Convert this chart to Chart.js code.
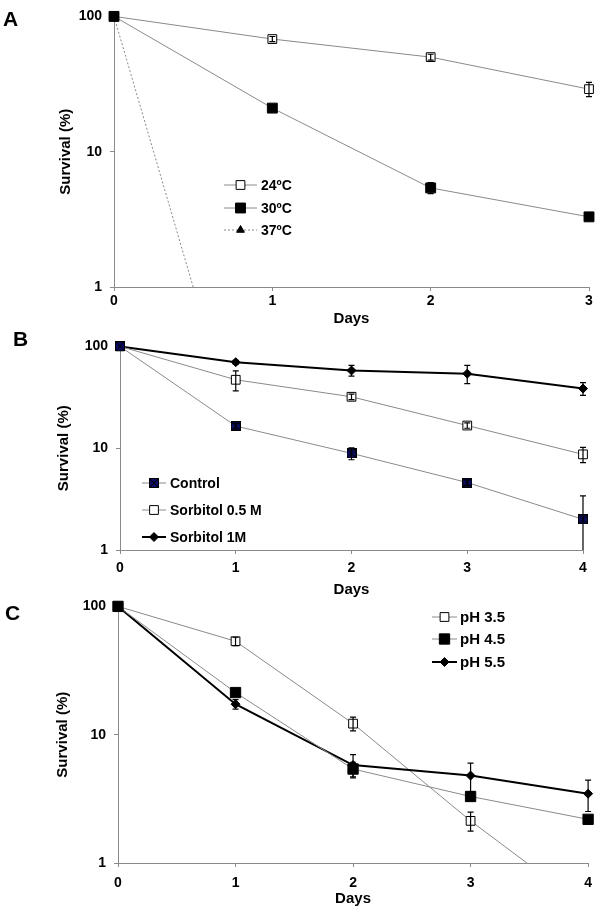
<!DOCTYPE html>
<html>
<head>
<meta charset="utf-8">
<script src="https://cdn.jsdelivr.net/npm/chart.js@4.4.1/dist/chart.umd.min.js"></script>
<style>
    body { margin: 0; background: #fff; width: 600px; height: 910px; position: relative; overflow: hidden; font-family: "Liberation Sans", Arial, sans-serif; }
    .painel { position: absolute; left: 0; width: 600px; }
    .painel canvas { display: block; }
    .letra { position: absolute; font-weight: bold; font-size: 21px; line-height: 21px; color: #000; }
</style>
</head>
<body>
<div class="painel" style="top:0;height:330px"><canvas id="chart-a" width="600" height="330"></canvas></div>
<div class="painel" style="top:330px;height:270px"><canvas id="chart-b" width="600" height="270"></canvas></div>
<div class="painel" style="top:590px;height:320px"><canvas id="chart-c" width="600" height="320"></canvas></div>
<div class="letra" style="left:3px;top:8px">A</div>
<div class="letra" style="left:13px;top:328px">B</div>
<div class="letra" style="left:5px;top:602px">C</div>
<script>
    // eixo y comum
    const yTicks = [1, 10, 100];

    // painel A - temperatura
    const diasA = [0, 1, 2, 3];
    const labelsA = ['24ºC', '30ºC', '37ºC'];
    const a24 = [100, 68, 50, 29];
    const a24Err = [0, 3, 2.5, 3.5];
    const a30 = [100, 21, 5.4, 3.3];
    const a30Err = [0, 1, 0.5, 0.2];
    const a37 = [100, 0.01];
    const a37Err = [0, 0];

    // painel B - sorbitol
    const diasB = [0, 1, 2, 3, 4];
    const labelsB = ['Control', 'Sorbitol 0.5 M', 'Sorbitol 1M'];
    const bControl = [100, 16.5, 8.9, 4.6, 2.0];
    const bControlErr = [0, 1, 1.2, 0.3, 1.4];
    const bSorb05 = [100, 47, 32, 16.7, 8.7];
    const bSorb05Err = [0, 10.5, 2, 1, 1.5];
    const bSorb1 = [100, 70, 58, 54, 38.5];
    const bSorb1Err = [0, 3, 7, 11, 5.5];

    // painel C - pH
    const diasC = [0, 1, 2, 3, 4];
    const labelsC = ['pH 3.5', 'pH 4.5', 'pH 5.5'];
    const c35 = [100, 53.5, 12.2, 2.13, 0.44];
    const c35Err = [0, 4, 1.5, 0.36, 0];
    const c45 = [100, 21.3, 5.4, 3.3, 2.19];
    const c45Err = [0, 1, 0.7, 0.2, 0.1];
    const c55 = [100, 17.3, 5.8, 4.8, 3.47];
    const c55Err = [0, 1.5, 1.2, 1.2, 0.95];

    const fonte = '"Liberation Sans", Arial, sans-serif';
    const cinza = '#8a8a8a';
    Chart.defaults.font.family = fonte;
    Chart.defaults.color = '#000';

    function pontos(dias, valores) {
        return valores.map((v, i) => ({ x: dias[i], y: v }));
    }

    // quadrado azul escuro com um X
    function criarMarcadorControl() {
        const c = document.createElement('canvas');
        c.width = 10; c.height = 10;
        const g = c.getContext('2d');
        g.fillStyle = '#0b0b62';
        g.fillRect(0.5, 0.5, 9, 9);
        g.strokeStyle = '#000';
        g.lineWidth = 1;
        g.strokeRect(0.5, 0.5, 9, 9);
        g.beginPath();
        g.moveTo(1, 1); g.lineTo(9, 9);
        g.moveTo(9, 1); g.lineTo(1, 9);
        g.stroke();
        return c;
    }

    const barrasErro = {
        id: 'barrasErro',
        afterDatasetsDraw(chart) {
            const ctx = chart.ctx;
            const area = chart.chartArea;
            const y = chart.scales.y;
            const x = chart.scales.x;
            ctx.save();
            ctx.beginPath();
            ctx.rect(0, 0, chart.width, area.bottom);
            ctx.clip();
            ctx.strokeStyle = '#000';
            ctx.lineWidth = 1.2;
            chart.data.datasets.forEach(ds => {
                if (!ds.erros) return;
                ds.data.forEach((p, i) => {
                    const e = ds.erros[i];
                    if (!e) return;
                    const px = x.getPixelForValue(p.x);
                    const top = y.getPixelForValue(p.y + e);
                    const baixo = p.y - e > 0 ? y.getPixelForValue(p.y - e) : area.bottom + 5;
                    ctx.beginPath();
                    ctx.moveTo(px, top); ctx.lineTo(px, baixo);
                    ctx.moveTo(px - 3, top); ctx.lineTo(px + 3, top);
                    ctx.moveTo(px - 3, baixo); ctx.lineTo(px + 3, baixo);
                    ctx.stroke();
                });
            });
            ctx.restore();
        }
    };

    const legendaPropria = {
        id: 'legendaPropria',
        afterDraw(chart, args, opts) {
            const ctx = chart.ctx;
            ctx.save();
            ctx.font = 'bold ' + opts.tamanho + 'px ' + fonte;
            ctx.textBaseline = 'middle';
            ctx.textAlign = 'left';
            chart.data.datasets.forEach((ds, i) => {
                const ly = opts.linhas[i];
                ctx.strokeStyle = ds.borderColor;
                ctx.lineWidth = ds.borderWidth;
                ctx.setLineDash(ds.borderDash || []);
                ctx.beginPath();
                ctx.moveTo(opts.x1, ly); ctx.lineTo(opts.x2, ly);
                ctx.stroke();
                ctx.setLineDash([]);
                ctx.fillStyle = ds.pointBackgroundColor;
                ctx.strokeStyle = ds.pointBorderColor;
                ctx.lineWidth = 1;
                Chart.helpers.drawPoint(ctx, {
                    pointStyle: ds.pointStyle,
                    radius: ds.pointRadius,
                    rotation: 0,
                    borderWidth: 1
                }, (opts.x1 + opts.x2) / 2, ly);
                ctx.fillStyle = '#000';
                ctx.fillText(chart.data.datasets[i].label, opts.xTexto, ly + 1);
            });
            ctx.restore();
        }
    };

    function serie(label, dias, valores, erros, estilo) {
        return Object.assign({
            label: label,
            data: pontos(dias, valores),
            erros: erros,
            borderColor: cinza,
            borderWidth: 1,
            pointBorderColor: '#000',
            pointBorderWidth: 1,
            pointHoverRadius: 0,
            clip: { left: 12, top: 12, right: 12, bottom: 0 },
            tension: 0
        }, estilo);
    }

    function criarGrafico(id, maxDia, caixa, datasets, legenda) {
        const ctx = document.getElementById(id).getContext('2d');
        return new Chart(ctx, {
            type: 'line',
            data: { datasets: datasets },
            options: {
                responsive: false,
                animation: false,
                devicePixelRatio: 1,
                events: [],
                layout: { padding: { left: 0, right: caixa.direita, top: caixa.topo, bottom: 0 } },
                plugins: {
                    legend: { display: false },
                    tooltip: { enabled: false },
                    legendaPropria: legenda
                },
                scales: {
                    x: {
                        type: 'linear',
                        min: 0,
                        max: maxDia,
                        afterFit: s => { s.height = caixa.alturaX; },
                        grid: { drawOnChartArea: false, drawTicks: true, tickLength: 4, color: cinza },
                        border: { color: cinza, width: 1 },
                        ticks: { stepSize: 1, padding: caixa.padX, color: '#000', font: { size: 14, weight: 'bold' } },
                        title: {
                            display: true, text: 'Days', color: '#000',
                            font: { size: 15, weight: 'bold' },
                            padding: { top: 0, bottom: caixa.padTituloX }
                        }
                    },
                    y: {
                        type: 'logarithmic',
                        min: 1,
                        max: 100,
                        afterBuildTicks: s => { s.ticks = yTicks.map(v => ({ value: v })); },
                        afterFit: s => { s.width = caixa.larguraY; },
                        grid: { drawOnChartArea: false, drawTicks: true, tickLength: 4, color: cinza },
                        border: { color: cinza, width: 1 },
                        ticks: { padding: 8, color: '#000', font: { size: 14, weight: 'bold' }, callback: v => String(v) },
                        title: {
                            display: true, text: 'Survival (%)', color: '#000',
                            font: { size: 15, weight: 'bold' },
                            padding: { top: caixa.padTituloY, bottom: 0 }
                        }
                    }
                }
            },
            plugins: [barrasErro, legendaPropria]
        });
    }

    const marcadorControl = criarMarcadorControl();

    // order: o menor fica por cima (quadrado cheio no dia 0)
    criarGrafico('chart-a', 3,
        { direita: 11, topo: 12, alturaX: 43, larguraY: 114, padX: 2, padTituloX: 2, padTituloY: 57 },
        [
            serie(labelsA[0], diasA, a24, a24Err, { order: 1, pointStyle: 'rect', pointRadius: 6.2, pointBackgroundColor: '#fff' }),
            serie(labelsA[1], diasA, a30, a30Err, { order: 0, pointStyle: 'rect', pointRadius: 7, pointBackgroundColor: '#000' }),
            serie(labelsA[2], diasA, a37, a37Err, { order: 2, pointStyle: 'triangle', pointRadius: 4.5, pointBackgroundColor: '#000', borderDash: [2, 2] })
        ],
        { x1: 224, x2: 257, xTexto: 261, linhas: [185, 208, 230], tamanho: 14 }
    );

    criarGrafico('chart-b', 4,
        { direita: 17, topo: 13, alturaX: 50, larguraY: 120, padX: 6, padTituloX: 1, padTituloY: 55 },
        [
            serie(labelsB[0], diasB, bControl, bControlErr, { order: 0, pointStyle: marcadorControl, pointRadius: 5, pointBackgroundColor: '#0b0b62' }),
            serie(labelsB[1], diasB, bSorb05, bSorb05Err, { order: 1, pointStyle: 'rect', pointRadius: 6.2, pointBackgroundColor: '#fff' }),
            serie(labelsB[2], diasB, bSorb1, bSorb1Err, { order: 2, pointStyle: 'rectRot', pointRadius: 4.5, pointBackgroundColor: '#000', borderColor: '#000', borderWidth: 2 })
        ],
        { x1: 142, x2: 166, xTexto: 170, linhas: [153, 180, 207], tamanho: 14 }
    );

    criarGrafico('chart-c', 4,
        { direita: 8, topo: 14, alturaX: 47, larguraY: 118, padX: 8, padTituloX: 2, padTituloY: 54 },
        [
            serie(labelsC[0], diasC, c35, c35Err, { order: 2, pointStyle: 'rect', pointRadius: 6.2, pointBackgroundColor: '#fff' }),
            serie(labelsC[1], diasC, c45, c45Err, { order: 0, pointStyle: 'rect', pointRadius: 7.3, pointBackgroundColor: '#000' }),
            serie(labelsC[2], diasC, c55, c55Err, { order: 1, pointStyle: 'rectRot', pointRadius: 4.5, pointBackgroundColor: '#000', borderColor: '#000', borderWidth: 2 })
        ],
        { x1: 432, x2: 457, xTexto: 460, linhas: [27, 49, 72], tamanho: 15 }
    );
</script>
</body>
</html>
